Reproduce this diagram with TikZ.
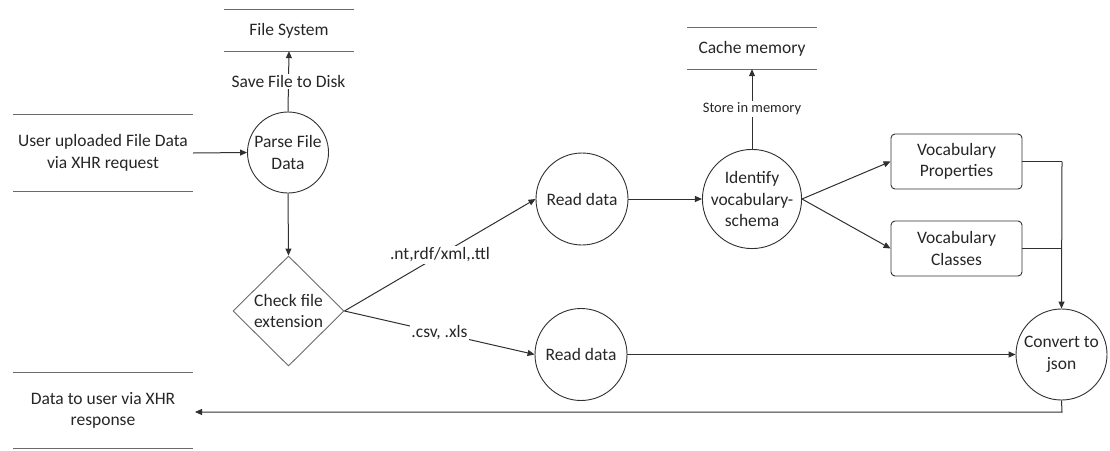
\documentclass[tikz,border=0pt]{standalone}
\usepackage{fontspec}
\setmainfont{Carlito}
\usetikzlibrary{arrows.meta,shapes.geometric}
\definecolor{linec}{HTML}{303030}
\definecolor{txtc}{HTML}{262626}
\definecolor{lightc}{HTML}{6A6A6A}
\newcommand{\mainfs}{\fontsize{17.5}{21.5}\selectfont}
\newcommand{\smallfs}{\fontsize{14.5}{17}\selectfont}
\begin{document}
\begin{tikzpicture}[x=1pt,y=-1pt,
  every node/.style={text=txtc,font=\mainfs},
  conn/.style={draw=linec,line width=1pt,-{Triangle[length=7pt,width=6pt]}},
  plain/.style={draw=linec,line width=1pt},
  procc/.style={circle,draw=linec,line width=0.9pt,minimum size=92pt,inner sep=0pt,align=center},
  decision/.style={diamond,draw=lightc,line width=0.9pt,minimum width=111pt,minimum height=110pt,inner sep=0pt,align=center},
  vocab/.style={rectangle,rounded corners=4pt,draw=linec,line width=0.9pt,minimum width=131pt,minimum height=55pt,align=center},
  store/.style={rectangle,draw=none,align=center,inner sep=0pt},
  storeline/.style={draw=lightc,line width=1pt},
  lbl/.style={fill=white,inner sep=1.5pt}
]
\useasboundingbox (0,0) rectangle (1110,450);

% data stores
\node[store,minimum width=130pt,minimum height=41pt] (fs) at (289,30.5) {File System};
\node[store,minimum width=180pt,minimum height=76pt] (uu) at (103,153) {User uploaded File Data\\via XHR request};
\node[store,minimum width=130pt,minimum height=41pt] (cache) at (752,48.5) {Cache memory};
\node[store,minimum width=180pt,minimum height=75pt] (du) at (103,410.5) {Data to user via XHR\\response};
\foreach \s in {fs,uu,cache,du}{
  \draw[storeline] (\s.north west) -- (\s.north east);
  \draw[storeline] (\s.south west) -- (\s.south east);
}

% processes
\node[procc,minimum size=81pt] (parse) at (288,152.5) {Parse File\\Data};
\node[decision] (chk) at (288.5,311) {Check file\\extension};
\node[procc] (rd1) at (582,199) {Read data};
\node[procc] (idv) at (752,199) {Identify\\vocabulary-\\schema};
\node[vocab] (vp) at (956.5,161.5) {Vocabulary\\Properties};
\node[vocab] (vc) at (956.5,248.5) {Vocabulary\\Classes};
\node[procc] (rd2) at (581,354.5) {Read data};
\node[procc,minimum size=91pt] (conv) at (1061.5,354.5) {Convert to\\json};

\coordinate (join1) at (1062,161.5);
\coordinate (join2) at (1062,248.5);
\coordinate (ret) at (1062,412);
\coordinate (retend) at (195,412);

% connectors
\draw[conn] (uu.east) -- (parse.west);
\draw[conn] (parse.north) -- node[lbl] {Save File to Disk} (fs.south);
\draw[conn] (parse.south) -- (chk.north);
\draw[conn] (chk.east) -- node[lbl] {.nt,rdf/xml,.ttl} (rd1.west);
\draw[conn] (chk.east) -- node[lbl] {.csv, .xls} (rd2.west);
\draw[conn] (rd1.east) -- (idv.west);
\draw[conn] (idv.north) -- node[lbl,font=\smallfs] {Store in memory} (cache.south);
\draw[conn] (idv.east) -- (vp.west);
\draw[conn] (idv.east) -- (vc.west);
\draw[plain] (vp.east) -- (join1);
\draw[plain] (vc.east) -- (join2);
\draw[conn] (join1) -- (conv.north);
\draw[conn] (rd2.east) -- (conv.west);
\draw[conn] (conv.south) -- (ret) -- (retend);
\end{tikzpicture}
\end{document}
